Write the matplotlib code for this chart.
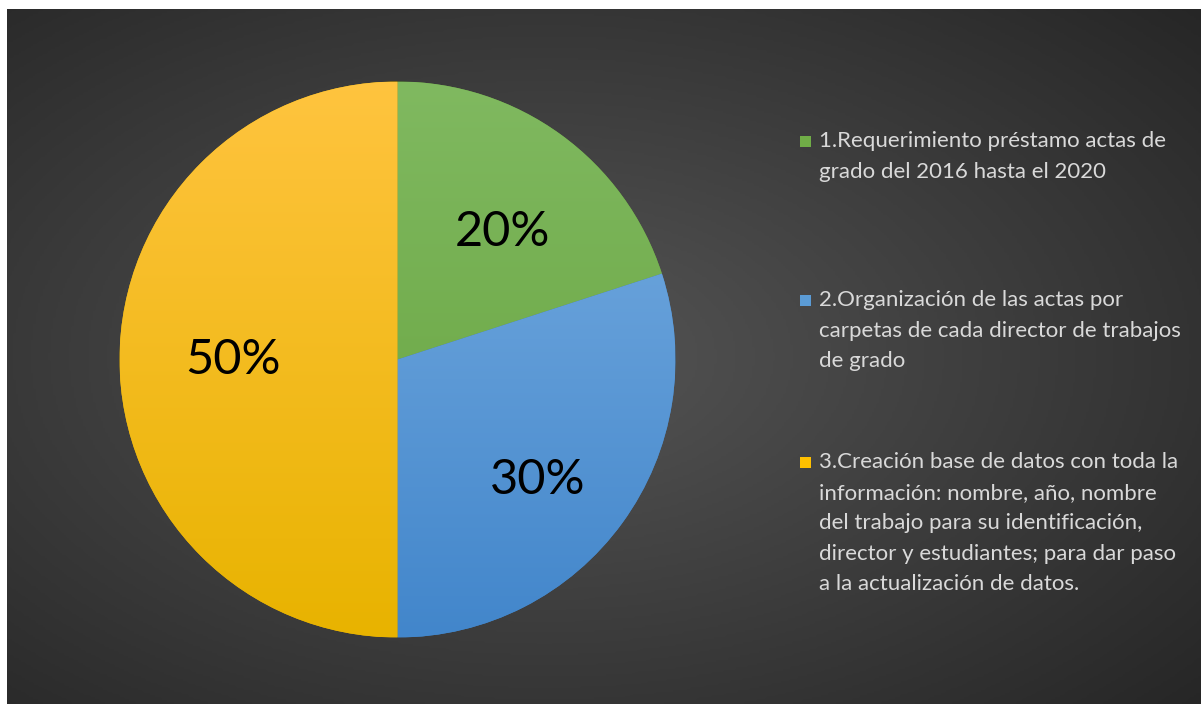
import numpy as np
import matplotlib
matplotlib.use("Agg")
import matplotlib.pyplot as plt
from matplotlib.colors import LinearSegmentedColormap

# ── Data ──────────────────────────────────────────────────────────────────────
shares = [20, 30, 50]
pct_labels = ["20%", "30%", "50%"]
legend_labels = [
    "1.Requerimiento préstamo actas de\ngrado del 2016 hasta el 2020",
    "2.Organización de las actas por\ncarpetas de cada director de trabajos\nde grado",
    "3.Creación base de datos con toda la\ninformación: nombre, año, nombre\ndel trabajo para su identificación,\ndirector y estudiantes; para dar paso\na la actualización de datos.",
]
# (top colour, bottom colour) for each slice gradient
slice_colors = [("#80b960", "#64a13b"), ("#7aafe2", "#4286cb"), ("#ffc43f", "#e8b300")]
legend_colors = ["#70ad47", "#5b9bd5", "#ffc000"]

plt.rcParams["font.family"] = ["Lato", "DejaVu Sans"]

W, H = 1202, 704
fig = plt.figure(figsize=(W / 100, H / 100), dpi=100, facecolor="white")

# ── Background (radial gradient) ──────────────────────────────────────────────
bx0, by0, bx1, by1 = 7, 9, 1201, 704
bg = fig.add_axes([bx0 / W, 1 - by1 / H, (bx1 - bx0) / W, (by1 - by0) / H])
yy, xx = np.mgrid[0:1:300j, 0:1:500j]
r = np.sqrt(((xx - 0.45) / 0.75) ** 2 + ((yy - 0.5) / 0.75) ** 2)
r = np.clip(r, 0, 1)
bg_cmap = LinearSegmentedColormap.from_list("bg", ["#555555", "#262626"])
bg.imshow(r, cmap=bg_cmap, aspect="auto", extent=[0, 1, 0, 1], vmin=0, vmax=1)
bg.set_axis_off()

# ── Pie ───────────────────────────────────────────────────────────────────────
cx, cy, rad = 397.5, 359.5, 278
ax = fig.add_axes([(cx - rad) / W, 1 - (cy + rad) / H, 2 * rad / W, 2 * rad / H])
ax.set_axis_off()

wedges, _ = ax.pie(shares, startangle=90, counterclock=False, radius=1,
                   colors=[c[1] for c in slice_colors],
                   wedgeprops=dict(linewidth=0))
grad = np.linspace(0, 1, 256).reshape(-1, 1)
for w, (top, bot) in zip(wedges, slice_colors):
    cm = LinearSegmentedColormap.from_list("g", [top, bot])
    im = ax.imshow(grad, cmap=cm, extent=[-1, 1, -1, 1], aspect="auto",
                   origin="upper", zorder=2)
    im.set_clip_path(w)
ax.set_xlim(-1, 1)
ax.set_ylim(-1, 1)

# percentage labels, placed along each slice's mid angle (with small nudges)
theta = 90.0
label_r = [0.594, 0.665, 0.59]
label_nudge = [-3.3, -4.6, 0.0]
for val, lab, lr, nd in zip(shares, pct_labels, label_r, label_nudge):
    mid = np.deg2rad(theta - val * 3.6 / 2 + nd)
    theta -= val * 3.6
    ax.text(lr * np.cos(mid), lr * np.sin(mid), lab, ha="center", va="center",
            fontsize=35, color="black", zorder=5)

# ── Legend ────────────────────────────────────────────────────────────────────
line_h = 30.6
starts = [141, 300, 462]
for lab, col, y0 in zip(legend_labels, legend_colors, starts):
    fig.patches.append(plt.Rectangle((800 / W, 1 - (y0 + 6) / H), 11 / W, 11 / H,
                                     transform=fig.transFigure, facecolor=col,
                                     edgecolor="none"))
    for i, ln in enumerate(lab.split("\n")):
        fig.text(819 / W, 1 - (y0 + i * line_h) / H, ln, fontsize=16,
                 color="#d9d9d9", ha="left", va="center")

fig.savefig("out.png", dpi=100, facecolor="white")
